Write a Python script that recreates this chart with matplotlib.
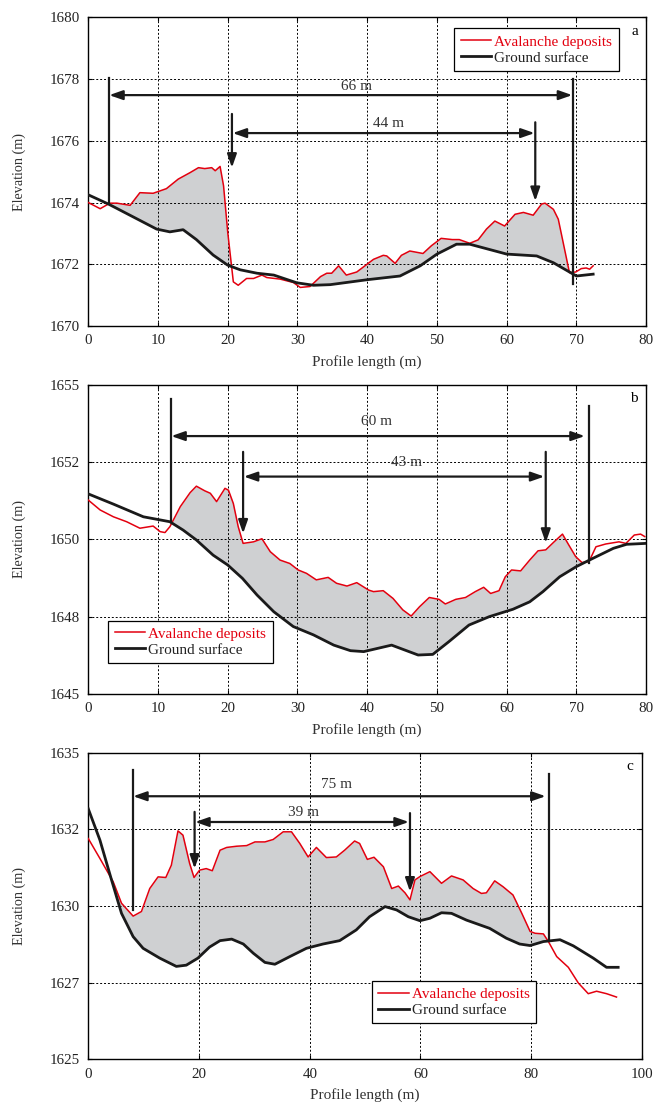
import matplotlib.pyplot as plt
import numpy as np

plt.rcParams['font.family'] = ['Liberation Serif', 'DejaVu Serif']
plt.rcParams['font.size'] = 11

# panel a
a_ground_x = [0, 2.9, 9.8, 11.7, 13.6, 15.5, 17.9, 20, 21.8, 24.2, 26.6, 29.9, 32.3, 34.7, 40,
              44.7, 47.6, 50, 52.8, 54.7, 60, 64.3, 66.7, 70, 72.4]
a_ground_y = [1674.25, 1673.95, 1673.14, 1673.05, 1673.12, 1672.8, 1672.3, 1671.97, 1671.82, 1671.71,
              1671.65, 1671.4, 1671.32, 1671.34, 1671.5, 1671.62, 1671.95, 1672.33, 1672.65, 1672.65,
              1672.33, 1672.27, 1672.05, 1671.62, 1671.68]
a_dep_x = [0, 1.7, 3.1, 4.1, 6, 7.4, 9.3, 11.2, 12.9, 14.6, 15.8, 16.7, 17.7, 18.2, 18.9, 19.4, 20,
           20.8, 21.5, 22.7, 23.7, 24.9, 25.6, 27.5, 29.4, 30.4, 31.8, 33.3, 34.2, 34.9, 35.9, 37,
           38.5, 40.9, 42.3, 42.8, 44, 44.9, 46.1, 48, 49.2, 50.6, 52.2, 53.2, 54.7, 55.9, 57.1,
           58.3, 59.7, 61.2, 62.4, 63.8, 65, 65.5, 66.7, 67.4, 68.4, 69, 69.9, 70.7, 71.4, 71.9, 72.4]
a_dep_y = [1674, 1673.8, 1673.98, 1673.98, 1673.91, 1674.32, 1674.3, 1674.45, 1674.76, 1674.97,
           1675.13, 1675.1, 1675.13, 1675.03, 1675.17, 1674.54, 1673.03, 1671.43, 1671.32, 1671.54,
           1671.54, 1671.65, 1671.57, 1671.52, 1671.41, 1671.25, 1671.28, 1671.6, 1671.71, 1671.71,
           1671.95, 1671.65, 1671.75, 1672.16, 1672.29, 1672.27, 1672.03, 1672.29, 1672.43, 1672.35,
           1672.6, 1672.84, 1672.8, 1672.8, 1672.68, 1672.79, 1673.14, 1673.4, 1673.24, 1673.62,
           1673.68, 1673.59, 1673.95, 1673.98, 1673.78, 1673.46, 1672.38, 1671.73, 1671.75, 1671.86,
           1671.88, 1671.84, 1671.95]

# panel b
b_ground_x = [0, 3.6, 7.9, 11.7, 13.6, 15.5, 17.9, 20, 22.1, 24.2, 26.6, 29.4, 32.3, 35.2, 37.6,
              39.5, 43.5, 47.3, 49.4, 51.7, 54.6, 57.5, 60.9, 63.3, 65.2, 67.6, 70, 72.4, 75.3,
              77.2, 80]
b_ground_y = [1651.47, 1651.14, 1650.73, 1650.57, 1650.3, 1649.98, 1649.49, 1649.17, 1648.74, 1648.2,
              1647.66, 1647.18, 1646.91, 1646.58, 1646.4, 1646.37, 1646.58, 1646.26, 1646.28, 1646.69,
              1647.23, 1647.5, 1647.74, 1647.98, 1648.31, 1648.79, 1649.12, 1649.39, 1649.71,
              1649.84, 1649.87]
b_dep_x = [0, 1.7, 3.6, 5.5, 7.4, 9.3, 10.3, 11, 11.7, 13.2, 14.6, 15.5, 16.7, 17.5, 18.4, 19.6,
           20.1, 20.8, 21.5, 22.2, 23.7, 24.9, 26.1, 27.5, 28.9, 30.1, 31.3, 32.7, 34.4, 35.6, 37.1,
           38.5, 40.2, 40.9, 42.3, 43.7, 45.1, 46.3, 47.5, 48.9, 50.3, 51.2, 52.7, 54.1, 55.5, 56.7,
           57.7, 58.9, 59.8, 60.7, 62, 63.3, 64.5, 65.6, 66.8, 68, 68.9, 69.9, 70.8, 71.8, 72.8,
           74.2, 76.1, 77.1, 78.3, 79.2, 79.8]
b_dep_y = [1651.27, 1650.95, 1650.73, 1650.57, 1650.36, 1650.43, 1650.25, 1650.22, 1650.41, 1651.06,
           1651.51, 1651.72, 1651.57, 1651.49, 1651.22, 1651.65, 1651.59, 1651.16, 1650.41, 1649.87,
           1649.92, 1650.02, 1649.6, 1649.33, 1649.22, 1649.01, 1648.9, 1648.69, 1648.77, 1648.58,
           1648.49, 1648.6, 1648.36, 1648.31, 1648.34, 1648.09, 1647.72, 1647.52, 1647.82, 1648.12,
           1648.06, 1647.91, 1648.06, 1648.12, 1648.31, 1648.45, 1648.25, 1648.34, 1648.79, 1649.01,
           1648.98, 1649.33, 1649.63, 1649.66, 1649.92, 1650.17, 1649.82, 1649.44, 1649.25, 1649.28,
           1649.76, 1649.85, 1649.92, 1649.87, 1650.14, 1650.17, 1650.09]

# panel c
c_ground_x = [0, 2.1, 4.2, 6, 8.1, 9.9, 12.9, 15.9, 17.7, 19.8, 21.9, 23.8, 25.9, 28, 29.8, 31.9,
              33.7, 36.4, 39.4, 42.4, 45.4, 48.4, 50.8, 53.6, 55.7, 57.8, 59.9, 61.7, 63.8, 65.6,
              68.3, 72.5, 75.5, 77.9, 79.8, 82.2, 85.2, 87.6, 91.2, 93.6, 95.7]
c_ground_y = [1633.17, 1632.15, 1630.85, 1629.76, 1629.0, 1628.62, 1628.3, 1628.03, 1628.07, 1628.3,
              1628.66, 1628.87, 1628.92, 1628.76, 1628.46, 1628.16, 1628.1, 1628.35, 1628.62, 1628.76,
              1628.87, 1629.22, 1629.65, 1629.98, 1629.87, 1629.65, 1629.52, 1629.6, 1629.78, 1629.76,
              1629.54, 1629.27, 1628.95, 1628.76, 1628.71, 1628.84, 1628.9, 1628.7, 1628.3, 1628.0,
              1628.0]
c_dep_x = [0, 2.1, 4.5, 6, 8.1, 9.6, 11.1, 12.6, 14, 15, 16.2, 17.1, 18.3, 19.1, 20.1, 21.3, 22.4,
           23.8, 25, 26.8, 28.6, 30.1, 31.9, 33.4, 35.2, 36.7, 38.2, 39.7, 41.2, 43, 44.8, 46.3,
           48.1, 49, 50.4, 51.6, 53.3, 54.8, 56, 57.2, 58.1, 59, 59.9, 61.7, 63.8, 65.6, 67.7, 69.5,
           71, 71.9, 73.4, 74.9, 76.7, 78.3, 79.8, 80.7, 82.2, 83.1, 84.6, 86.7, 88.5, 90.3, 91.8,
           93.6, 95.4]
c_dep_y = [1632.2, 1631.55, 1630.79, 1630.09, 1629.67, 1629.82, 1630.57, 1630.95, 1630.93, 1631.33,
           1632.45, 1632.31, 1631.39, 1630.93, 1631.17, 1631.22, 1631.15, 1631.82, 1631.91, 1631.95,
           1631.97, 1632.09, 1632.09, 1632.17, 1632.42, 1632.42, 1632.04, 1631.6, 1631.91, 1631.58,
           1631.6, 1631.82, 1632.12, 1632.04, 1631.52, 1631.59, 1631.28, 1630.57, 1630.65, 1630.43,
           1630.2, 1630.85, 1630.96, 1631.12, 1630.74, 1630.98, 1630.85, 1630.57, 1630.41, 1630.43,
           1630.82, 1630.63, 1630.36, 1629.76, 1629.17, 1629.11, 1629.09, 1628.84, 1628.35, 1628.0,
           1627.49, 1627.14, 1627.22, 1627.14, 1627.03]

RED = '#e3000f'
BLK = '#1a1a1a'
GRAY = '#cfd0d2'


def arrow(ax, x0, y0, x1, y1, style='-|>'):
    ax.annotate('', xy=(x1, y1), xytext=(x0, y0),
                arrowprops=dict(arrowstyle=style + ',head_length=0.8,head_width=0.28',
                                mutation_scale=10, lw=1.6, color=BLK,
                                shrinkA=0, shrinkB=0), zorder=5)


def panel(ax, gx, gy, dx, dy, fill_lo, fill_hi, xlim, xticks, ylim, yticks, ylabels, letter,
          leg_loc):
    x = np.union1d(gx, dx)
    yg = np.interp(x, gx, gy)
    yd = np.interp(x, dx, dy)
    ax.fill_between(x, yg, yd, where=(yd > yg) & (x >= fill_lo) & (x <= fill_hi),
                    interpolate=True, color=GRAY, lw=0, zorder=1)
    ax.plot(dx, dy, color=RED, lw=1.1, label='Avalanche deposits', zorder=3)
    ax.plot(gx, gy, color=BLK, lw=2.0, label='Ground surface', zorder=4)
    ax.set_xlim(xlim)
    ax.set_ylim(ylim)
    ax.set_xticks(xticks)
    ax.set_yticks(yticks)
    ax.set_yticklabels(ylabels)
    ax.set_axisbelow('line')
    ax.grid(True, color='k', linestyle=(0, (2, 2)), lw=0.7)
    ax.tick_params(direction='in', top=True, right=True, length=3, labelsize=10.8, pad=6,
                   labelcolor='#222222')
    for s in ax.spines.values():
        s.set_linewidth(1.0)
    ax.set_ylabel('Elevation (m)', color='#333333', fontsize=10.2)
    ax.yaxis.set_label_coords(-0.112, 0.5)
    ax.set_xlabel('Profile length (m)', color='#333333')
    ax.xaxis.set_label_coords(0.5, -0.094)
    ax.text(0.985, 0.975, letter, transform=ax.transAxes, ha='right', va='top', fontsize=11)
    leg = ax.legend(loc='upper left', bbox_to_anchor=leg_loc, frameon=True, fancybox=False,
                    edgecolor='k', framealpha=1, handlelength=2.0, handletextpad=0.2,
                    borderpad=0.42, labelspacing=0.15, borderaxespad=0, fontsize=11)
    leg.get_frame().set_linewidth(0.9)
    leg.get_texts()[0].set_color(RED)
    leg.get_texts()[1].set_color('#222222')


fig = plt.figure(figsize=(6.54, 11.04), dpi=100)
ax1 = fig.add_axes([0.135, 0.7047, 0.853, 0.2796])
ax2 = fig.add_axes([0.135, 0.3714, 0.853, 0.2801])
ax3 = fig.add_axes([0.135, 0.0405, 0.8466, 0.2777])

panel(ax1, a_ground_x, a_ground_y, a_dep_x, a_dep_y, 2.9, 69.5, (0, 80), range(0, 81, 10),
      (1670, 1680), [1670, 1672, 1674, 1676, 1678, 1680],
      ['1670', '1672', '1674', '1676', '1678', '1680'], 'a', (0.656, 0.964))
panel(ax2, b_ground_x, b_ground_y, b_dep_x, b_dep_y, 11.8, 71.8, (0, 80), range(0, 81, 10),
      (1645, 1655), [1645, 1647.5, 1650, 1652.5, 1655],
      ['1645', '1648', '1650', '1652', '1655'], 'b', (0.036, 0.237))
panel(ax3, c_ground_x, c_ground_y, c_dep_x, c_dep_y, 0, 83.2, (0, 100), range(0, 101, 20),
      (1625, 1635), [1625, 1627.5, 1630, 1632.5, 1635],
      ['1625', '1627', '1630', '1632', '1635'], 'c', (0.512, 0.256))

# panel a annotations
ax1.plot([2.9, 2.9], [1674.0, 1678.03], color=BLK, lw=1.6, zorder=5)
ax1.plot([69.5, 69.5], [1671.35, 1678.0], color=BLK, lw=1.6, zorder=5)
arrow(ax1, 3.0, 1677.48, 69.4, 1677.48, '<|-|>')
ax1.text(38.5, 1677.55, '66 m', ha='center', va='bottom', color='#333333')
arrow(ax1, 20.6, 1676.87, 20.6, 1675.13)
arrow(ax1, 20.7, 1676.25, 64.0, 1676.25, '<|-|>')
arrow(ax1, 64.1, 1676.6, 64.1, 1674.05)
ax1.text(43.0, 1676.35, '44 m', ha='center', va='bottom', color='#333333')

# panel b annotations
ax2.plot([11.8, 11.8], [1650.57, 1654.53], color=BLK, lw=1.6, zorder=5)
ax2.plot([71.8, 71.8], [1649.25, 1654.31], color=BLK, lw=1.6, zorder=5)
arrow(ax2, 11.9, 1653.34, 71.2, 1653.34, '<|-|>')
ax2.text(41.3, 1653.6, '60 m', ha='center', va='bottom', color='#333333')
arrow(ax2, 22.2, 1652.83, 22.2, 1650.19)
arrow(ax2, 22.3, 1652.03, 65.4, 1652.03, '<|-|>')
arrow(ax2, 65.6, 1652.83, 65.6, 1649.89)
ax2.text(45.7, 1652.48, '43 m', ha='center', va='center', color='#333333')

# panel c annotations
ax3.plot([8.0, 8.0], [1629.87, 1634.42], color=BLK, lw=1.6, zorder=5)
ax3.plot([83.2, 83.2], [1628.9, 1634.31], color=BLK, lw=1.6, zorder=5)
arrow(ax3, 8.1, 1633.58, 82.6, 1633.58, '<|-|>')
ax3.text(44.8, 1633.75, '75 m', ha='center', va='bottom', color='#333333')
arrow(ax3, 19.2, 1633.07, 19.2, 1631.22)
arrow(ax3, 19.3, 1632.74, 57.9, 1632.74, '<|-|>')
ax3.text(38.9, 1632.85, '39 m', ha='center', va='bottom', color='#333333')
arrow(ax3, 58.1, 1633.03, 58.1, 1630.47)

fig.savefig('out.png', dpi=100)
